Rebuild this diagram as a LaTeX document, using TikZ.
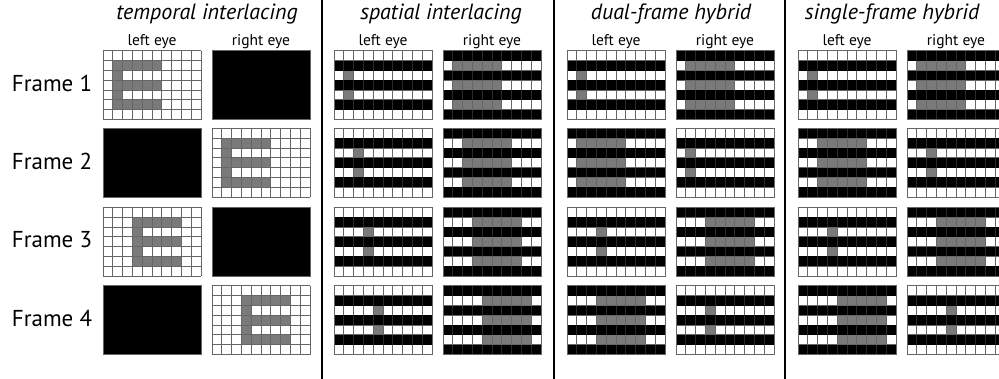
\documentclass[tikz,border=0pt]{standalone}
\usepackage{fontspec}
\setmainfont{PT Sans}
\definecolor{cellgray}{gray}{0.48}
\definecolor{linegray}{gray}{0.4}
\definecolor{darkline}{gray}{0.16}
\tikzset{
  gridline/.style={draw=linegray, line width=1pt},
  darkgrid/.style={draw=darkline, line width=0.8pt},
  divider/.style={line width=2.4pt, draw=black},
  titletext/.style={font=\itshape\fontsize{22}{26}\selectfont, inner sep=0pt},
  eyetext/.style={font=\fontsize{15.5}{18}\selectfont, inner sep=0pt},
  frametext/.style={font=\fontsize{23}{27}\selectfont, inner sep=0pt},
}
\newcommand\gridlinesall{%
  \foreach \ci in {0,...,10} \draw[gridline] (\ci,0) -- (\ci,7);
  \foreach \rw in {0,...,7} \draw[gridline] (0,\rw) -- (10,\rw);
}
% full white grid with the whole E at column #3
\newcommand\gridT[3]{%
  \begin{scope}[shift={(#1,#2)}, x=9.8pt, y=-9.8pt]
    \fill[white] (0,0) rectangle (10,7);
    \fill[cellgray] (#3,1) rectangle ++(1,5);
    \foreach \rw in {1,3,5} \fill[cellgray] (#3,\rw) rectangle ++(5,1);
    \gridlinesall
  \end{scope}}
% all black panel
\newcommand\gridB[2]{%
  \begin{scope}[shift={(#1,#2)}, x=9.8pt, y=-9.8pt]
    \fill[black] (0,0) rectangle (10,7);
    \draw[gridline] (0,0) rectangle (10,7);
  \end{scope}}
% even rows shown (rows 1,3,5 black); E stem at column #3
\newcommand\gridL[3]{%
  \begin{scope}[shift={(#1,#2)}, x=9.8pt, y=-9.8pt]
    \fill[white] (0,0) rectangle (10,7);
    \fill[cellgray] (#3,2) rectangle ++(1,1) (#3,4) rectangle ++(1,1);
    \gridlinesall
    \foreach \rw in {1,3,5} {%
      \fill[black] (0,\rw) rectangle ++(10,1);
      \foreach \ci in {1,...,9} \draw[darkgrid] (\ci,\rw) -- ++(0,1);
    }
    \draw[gridline] (0,0) rectangle (10,7);
  \end{scope}}
% odd rows shown (rows 0,2,4,6 black); E bars from column #3
\newcommand\gridR[3]{%
  \begin{scope}[shift={(#1,#2)}, x=9.8pt, y=-9.8pt]
    \fill[white] (0,0) rectangle (10,7);
    \foreach \rw in {1,3,5} \fill[cellgray] (#3,\rw) rectangle ++(5,1);
    \gridlinesall
    \foreach \rw in {0,2,4,6} {%
      \fill[black] (0,\rw) rectangle ++(10,1);
      \foreach \ci in {1,...,9} \draw[darkgrid] (\ci,\rw) -- ++(0,1);
    }
    \draw[gridline] (0,0) rectangle (10,7);
  \end{scope}}

\begin{document}
\begin{tikzpicture}[x=1pt, y=-1pt]
  \clip (0,0) rectangle (999,379);
  \fill[white] (0,0) rectangle (999,379);

  % titles
  \node[titletext] (t1) at (207,14) {temporal interlacing};
  \node[titletext] (t2) at (441,14) {spatial interlacing};
  \node[titletext] (t3) at (671,14) {dual-frame hybrid};
  \node[titletext] (t4) at (892,14) {single-frame hybrid};

  % eye labels
  \foreach \lx/\nm in {152/a,383/b,616/c,847/d}
    \node[eyetext] (le\nm) at (\lx,41.5) {left eye};
  \foreach \rx/\nm in {261/a,492/b,725/c,956/d}
    \node[eyetext] (re\nm) at (\rx,41.5) {right eye};

  % frame labels
  \node[frametext] (f1) at (52,83) {Frame 1};
  \node[frametext] (f2) at (52,161) {Frame 2};
  \node[frametext] (f3) at (52,240) {Frame 3};
  \node[frametext] (f4) at (52,318) {Frame 4};

  % temporal interlacing
  \gridT{103}{51}{1}   \gridB{212}{51}
  \gridB{103}{128.5}   \gridT{212}{128.5}{1}
  \gridT{103}{207.5}{3} \gridB{212}{207.5}
  \gridB{103}{286}     \gridT{212}{286}{3}

  % spatial interlacing
  \gridL{334}{51}{1}    \gridR{443}{51}{1}
  \gridL{334}{128.5}{2} \gridR{443}{128.5}{2}
  \gridL{334}{207.5}{3} \gridR{443}{207.5}{3}
  \gridL{334}{286}{4}   \gridR{443}{286}{4}

  % dual-frame hybrid
  \gridL{567}{51}{1}    \gridR{676}{51}{1}
  \gridR{567}{128.5}{1} \gridL{676}{128.5}{1}
  \gridL{567}{207.5}{3} \gridR{676}{207.5}{3}
  \gridR{567}{286}{3}   \gridL{676}{286}{3}

  % single-frame hybrid
  \gridL{798}{51}{1}    \gridR{907}{51}{1}
  \gridR{798}{128.5}{2} \gridL{907}{128.5}{2}
  \gridL{798}{207.5}{3} \gridR{907}{207.5}{3}
  \gridR{798}{286}{4}   \gridL{907}{286}{4}

  % dividers
  \draw[divider] (322,0) -- (322,379);
  \draw[divider] (554,0) -- (554,379);
  \draw[divider] (785,0) -- (785,379);
\end{tikzpicture}
\end{document}
